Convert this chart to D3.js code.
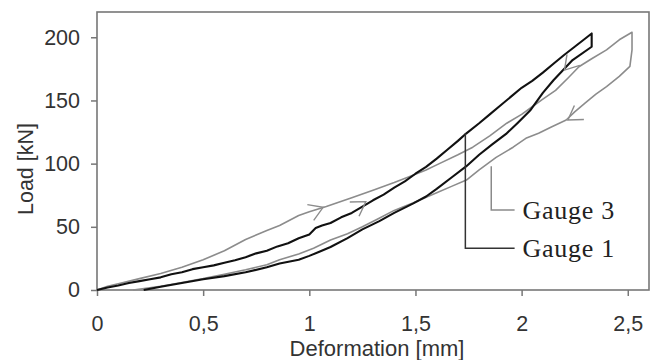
<!DOCTYPE html>
<html>
<head>
<meta charset="utf-8">
<script src="https://cdn.jsdelivr.net/npm/d3@7"></script>
<style>
  html, body { margin: 0; padding: 0; background: #fff; }
  svg { display: block; }
</style>
</head>
<body>
<svg id="chart" width="653" height="360"></svg>
<script>
// ---------------- DATA ----------------
const xTicks = [0, 0.5, 1, 1.5, 2, 2.5];
const yTicks = [0, 50, 100, 150, 200];
const xLabel = "Deformation [mm]";
const yLabel = "Load [kN]";

// Gauge 1 (black): loading branch then unloading branch  [deformation mm, load kN]
const gauge1Loading = [
  [0,0],[0.05,2],[0.1,3.5],[0.15,5.5],[0.2,7],[0.25,8.5],[0.3,10],[0.35,12.5],[0.4,14],[0.45,16.5],
  [0.5,18],[0.55,19.5],[0.6,21.5],[0.65,23.5],[0.7,26],[0.75,29],[0.8,31],[0.85,34.5],[0.9,37],[0.95,41],
  [1.0,44],[1.03,49],[1.06,51],[1.1,53],[1.15,57.5],[1.2,61],[1.25,66],[1.3,71],[1.35,75.5],[1.4,81],
  [1.45,86],[1.5,92],[1.55,97.5],[1.6,104],[1.65,111],[1.7,118],[1.74,124],[1.8,132],[1.85,139],
  [1.9,146],[1.95,153],[2.0,160],[2.05,165.5],[2.1,172],[2.15,179],[2.2,186],[2.25,192.5],[2.3,199],[2.33,203]
];
const gauge1Unloading = [
  [2.33,203],[2.33,192.5],[2.24,182],[2.15,166],[2.1,156],[2.04,142],[1.98,132],[1.93,124],[1.86,115],
  [1.8,107],[1.74,98],[1.67,89],[1.6,80],[1.55,74],[1.49,68.6],[1.4,61],[1.33,54.5],[1.25,48],
  [1.18,41],[1.1,34],[1.05,30.5],[1.0,27],[0.95,24],[0.86,21],[0.8,18],[0.7,14],[0.6,11],
  [0.5,8.5],[0.4,5.5],[0.3,2.5],[0.22,0]
];

// Gauge 3 (grey): loading branch then unloading branch
const gauge3Loading = [
  [0,0],[0.05,3],[0.1,5],[0.2,9],[0.3,13],[0.4,18],[0.5,24],[0.6,31],[0.7,40],[0.8,47],
  [0.86,51],[0.95,59],[1.0,62],[1.08,66],[1.2,73],[1.3,79],[1.4,85],[1.47,89.6],[1.55,95],
  [1.6,99],[1.7,107],[1.77,113],[1.85,122],[1.93,132],[2.0,139],[2.05,145],[2.1,151],[2.16,158],
  [2.22,168],[2.27,176.7],[2.33,183],[2.4,190],[2.46,198],[2.52,204]
];
const gauge3Unloading = [
  [2.52,204],[2.52,190],[2.51,177],[2.46,169],[2.4,161],[2.35,155],[2.3,148],[2.25,141],[2.21,134.5],
  [2.14,129],[2.08,124],[2.02,120],[1.96,113],[1.88,105],[1.8,95],[1.74,87],[1.67,82],[1.6,77],
  [1.49,69],[1.4,63],[1.32,56],[1.25,50],[1.18,44.5],[1.1,39.5],[1.02,33],[0.95,28.5],[0.86,24],
  [0.8,20],[0.7,16],[0.6,12.5],[0.5,9],[0.4,6],[0.3,3],[0.17,0]
];

// direction arrows: tip position (data) and pointing angle (degrees, screen)
const arrows = [
  { x: 1.065, y: 65.4, angle: -22 },
  { x: 1.266, y: 69.9, angle: -33 },
  { x: 2.202, y: 174,  angle: 131 },
  { x: 2.218, y: 134.5, angle: 146 }
];

// series labels with leader lines (anchor on curve, elbow load, text start)
const labels = [
  { name: "Gauge 3", ax: 1.857, ay: 98,  elbowY: 63.3, endX: 1.967, color: "#8a8a8a" },
  { name: "Gauge 1", ax: 1.735, ay: 124, elbowY: 33,   endX: 1.967, color: "#333333" }
];

// ---------------- CHART ----------------
const W = 653, H = 360;
const margin = { left: 97, top: 12, right: 4, bottom: 70 };
const svg = d3.select("#chart");

const x = d3.scaleLinear().domain([0, 2.6]).range([margin.left, W - margin.right]);
const y = d3.scaleLinear().domain([0, 220]).range([H - margin.bottom, margin.top]);

const fmt = d => String(d).replace(".", ",");
const sans = "Arial, 'Liberation Sans', sans-serif";

// axes
const xAxis = svg.append("g")
  .attr("transform", `translate(0,${H - margin.bottom})`)
  .call(d3.axisBottom(x).tickValues(xTicks).tickFormat(fmt).tickSize(6).tickPadding(20));
const yAxis = svg.append("g")
  .attr("transform", `translate(${margin.left},0)`)
  .call(d3.axisLeft(y).tickValues(yTicks).tickSize(6).tickPadding(11));

[xAxis, yAxis].forEach(g => {
  g.select(".domain").remove();
  g.selectAll(".tick line").attr("stroke", "#777").attr("stroke-width", 1.5);
  g.selectAll(".tick text")
    .attr("fill", "#333")
    .style("font-family", sans)
    .style("font-size", "21.5px");
});

// frame
svg.append("rect")
  .attr("x", x(0)).attr("y", y(220))
  .attr("width", x(2.6) - x(0)).attr("height", y(0) - y(220))
  .attr("fill", "none").attr("stroke", "#777").attr("stroke-width", 1.6);

// axis titles
svg.append("text")
  .attr("x", (x(0) + x(2.6)) / 2 + 4).attr("y", 356)
  .attr("text-anchor", "middle")
  .attr("fill", "#333")
  .style("font-family", sans)
  .style("font-size", "22px")
  .text(xLabel);

svg.append("text")
  .attr("transform", `translate(33,169) rotate(-90)`)
  .attr("text-anchor", "middle")
  .attr("fill", "#333")
  .style("font-family", sans)
  .style("font-size", "21.5px")
  .text(yLabel);

// curves
const line = d3.line().x(d => x(d[0])).y(d => y(d[1]));

const series = [
  { data: gauge3Loading.concat(gauge3Unloading.slice(1)), color: "#8c8c8c", width: 1.6 },
  { data: gauge1Loading.concat(gauge1Unloading.slice(1)), color: "#111", width: 2.1 }
];
svg.append("g").selectAll("path").data(series).join("path")
  .attr("d", d => line(d.data))
  .attr("fill", "none")
  .attr("stroke", d => d.color)
  .attr("stroke-width", d => d.width)
  .attr("stroke-linejoin", "round");

// arrows
const wingLen = 16, spread = 32;
svg.append("g").selectAll("path").data(arrows).join("path")
  .attr("d", a => {
    const tx = x(a.x), ty = y(a.y);
    const back = (a.angle + 180) * Math.PI / 180;
    const s = spread * Math.PI / 180;
    const w1 = [tx + wingLen * Math.cos(back - s), ty + wingLen * Math.sin(back - s)];
    const w2 = [tx + wingLen * Math.cos(back + s), ty + wingLen * Math.sin(back + s)];
    return `M${w1[0]},${w1[1]}L${tx},${ty}L${w2[0]},${w2[1]}`;
  })
  .attr("fill", "none")
  .attr("stroke", "#8c8c8c")
  .attr("stroke-width", 1.4);

// labels with leader lines
const lg = svg.append("g");
labels.forEach(l => {
  lg.append("path")
    .attr("d", `M${x(l.ax)},${y(l.ay)}V${y(l.elbowY)}H${x(l.endX)}`)
    .attr("fill", "none")
    .attr("stroke", l.color)
    .attr("stroke-width", 1.5);
  lg.append("text")
    .attr("x", x(l.endX) + 8).attr("y", y(l.elbowY) + 9)
    .attr("fill", "#222")
    .style("font-family", "'Liberation Serif', 'Times New Roman', serif")
    .style("font-size", "26px")
    .style("letter-spacing", "0.7px")
    .text(l.name);
});
</script>
</body>
</html>
